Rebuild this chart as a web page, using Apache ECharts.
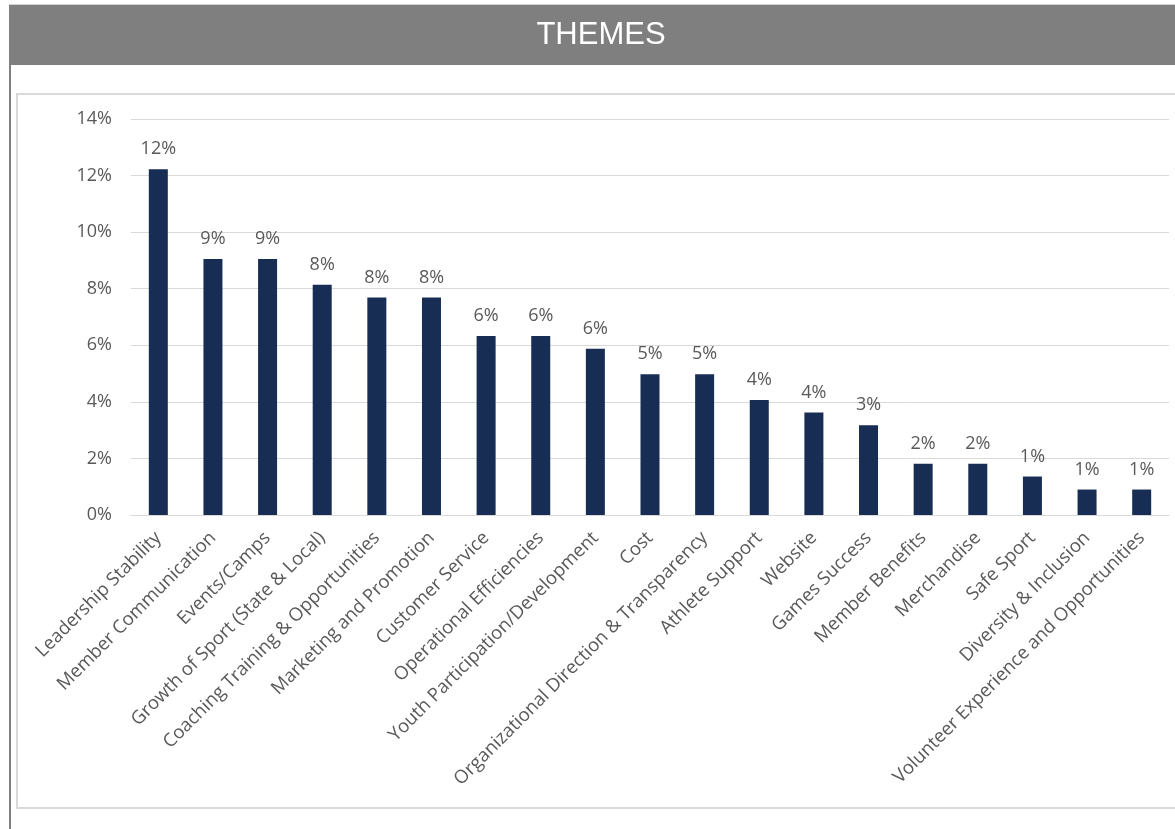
<!DOCTYPE html>
<html>
<head>
<meta charset="utf-8">
<script src="https://cdn.jsdelivr.net/npm/echarts@6/dist/echarts.min.js"></script>
<style>
  html, body { margin: 0; padding: 0; background: #ffffff; }
  #chart { width: 1175px; height: 829px; }
</style>
</head>
<body>
<div id="chart"></div>
<script>
// Share of responses per theme (%)
const themes = [
  'Leadership Stability',
  'Member Communication',
  'Events/Camps',
  'Growth of Sport (State & Local)',
  'Coaching Training & Opportunities',
  'Marketing and Promotion',
  'Customer Service',
  'Operational Efficiencies',
  'Youth Participation/Development',
  'Cost',
  'Organizational Direction & Transparency',
  'Athlete Support',
  'Website',
  'Games Success',
  'Member Benefits',
  'Merchandise',
  'Safe Sport',
  'Diversity & Inclusion',
  'Volunteer Experience and Opportunities'
];
const shares = [12.22, 9.05, 9.05, 8.14, 7.69, 7.69, 6.33, 6.33, 5.88, 4.98, 4.98, 4.07, 3.62, 3.17, 1.81, 1.81, 1.36, 0.90, 0.90];
const yTicks = { min: 0, max: 14, interval: 2 };

const chart = echarts.init(document.getElementById('chart'));
const textColor = '#595959';
const font = '"Open Sans", Lato, "Liberation Sans", sans-serif';

chart.setOption({
  backgroundColor: '#ffffff',
  animation: false,
  title: {
    text: 'THEMES',
    left: 596,
    top: 15,
    textAlign: 'center',
    textStyle: { color: '#ffffff', fontSize: 31, fontWeight: 'normal', fontFamily: '"Liberation Sans", Arial, sans-serif' },
    z: 10
  },
  graphic: [
    // header band
    { type: 'rect', shape: { x: 9, y: 5, width: 1166, height: 60 }, style: { fill: '#7f7f7f' }, z: -1 },
    { type: 'line', shape: { x1: 9, y1: 4.5, x2: 1175, y2: 4.5 }, style: { stroke: '#d0d0d0', lineWidth: 1 }, z: -1 },
    // left frame edge
    { type: 'rect', shape: { x: 9, y: 65, width: 2, height: 764 }, style: { fill: '#7f7f7f' }, z: -1 },
    // chart-area border
    { type: 'rect', shape: { x: 17, y: 94, width: 1170, height: 714 }, style: { fill: 'none', stroke: '#d9d9d9', lineWidth: 2 }, z: -1 }
  ],
  grid: { left: 131, right: 6, top: 119, bottom: 314, containLabel: false },
  xAxis: {
    type: 'category',
    data: themes,
    axisLine: { show: true, lineStyle: { color: '#d9d9d9', width: 1 } },
    axisTick: { show: false },
    axisLabel: {
      interval: 0,
      rotate: 45,
      margin: 20,
      color: textColor,
      fontSize: 18.5,
      fontFamily: font
    }
  },
  yAxis: {
    type: 'value',
    min: yTicks.min,
    max: yTicks.max,
    interval: yTicks.interval,
    axisLine: { show: false },
    axisTick: { show: false },
    splitLine: { lineStyle: { color: '#d9d9d9', width: 1 } },
    axisLabel: {
      margin: 19,
      color: textColor,
      fontSize: 18,
      fontFamily: font,
      formatter: '{value}%'
    }
  },
  series: [{
    type: 'bar',
    data: shares,
    barWidth: 19,
    itemStyle: { color: '#172d54' },
    label: {
      show: true,
      position: 'top',
      distance: 11,
      color: textColor,
      fontSize: 18,
      fontFamily: font,
      formatter: p => Math.round(p.value) + '%'
    }
  }]
});
</script>
</body>
</html>
